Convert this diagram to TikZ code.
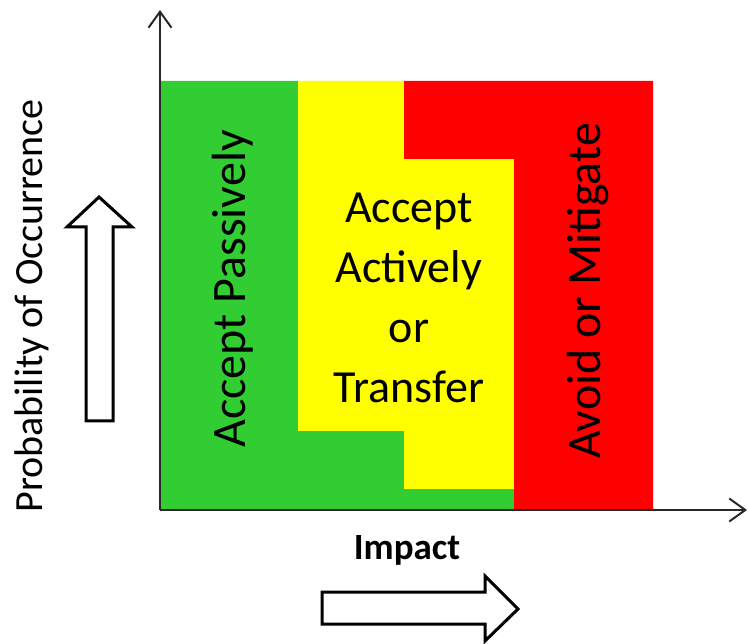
\documentclass[tikz,border=0pt]{standalone}
\usepackage{fontspec}
\setmainfont{Carlito}
\usetikzlibrary{arrows.meta}
\definecolor{zonegreen}{RGB}{50,205,50}
\definecolor{zoneyellow}{RGB}{255,255,0}
\definecolor{zonered}{RGB}{255,0,0}
\definecolor{axisgray}{RGB}{40,40,40}
\begin{document}
\begin{tikzpicture}[x=1pt,y=-1pt,
  zone/.style={draw=none},
  axisline/.style={draw=axisgray,line width=2pt,-{Straight Barb[length=16pt,width=23pt,line width=2pt]}},
  blockarrow/.style={draw=black,fill=white,line width=3pt,line join=miter},
  biglabel/.style={font=\fontsize{48}{60}\selectfont,inner sep=0pt,text=black},
  midlabel/.style={font=\fontsize{46}{60}\selectfont,inner sep=0pt,text=black,align=center},
  axislabel/.style={font=\fontsize{40}{46}\selectfont,inner sep=0pt,text=black}]
\useasboundingbox (0,0) rectangle (748,644);

% response zones
\fill[zone,zonegreen] (160,81) -- (298,81) -- (298,431) -- (404,431) -- (404,489)
  -- (514,489) -- (514,510) -- (160,510) -- cycle;
\fill[zone,zoneyellow] (298,81) -- (404,81) -- (404,159) -- (514,159) -- (514,489)
  -- (404,489) -- (404,431) -- (298,431) -- cycle;
\fill[zone,zonered] (404,81) -- (653,81) -- (653,510) -- (514,510) -- (514,159)
  -- (404,159) -- cycle;

% axes
\coordinate (origin) at (160,510);
\coordinate (ytop) at (160,10);
\coordinate (xend) at (747,510);
\draw[axisline] (origin) -- (ytop);
\draw[axisline] (origin) -- (xend);

% zone labels
\node[biglabel,rotate=90] (passive) at (233,289) {Accept Passively};
\node[biglabel,rotate=90] (mitigate) at (588,291) {Avoid or Mitigate};
\node[midlabel] (active) at (409,298) {Accept\\Actively\\or\\Transfer};

% axis captions
\node[axislabel,rotate=90] (prob) at (32,306) {Probability of Occurrence};
\node[axislabel,font=\bfseries\fontsize{37}{44}\selectfont] (impact) at (407,550) {Impact};

% hollow direction arrows
\draw[blockarrow] (99,197) -- (132,227) -- (113,227) -- (113,421) -- (86,421)
  -- (86,227) -- (67,227) -- cycle;
\draw[blockarrow] (518,609) -- (485,576) -- (485,592) -- (322,592) -- (322,624)
  -- (485,624) -- (485,641) -- cycle;
\end{tikzpicture}
\end{document}
